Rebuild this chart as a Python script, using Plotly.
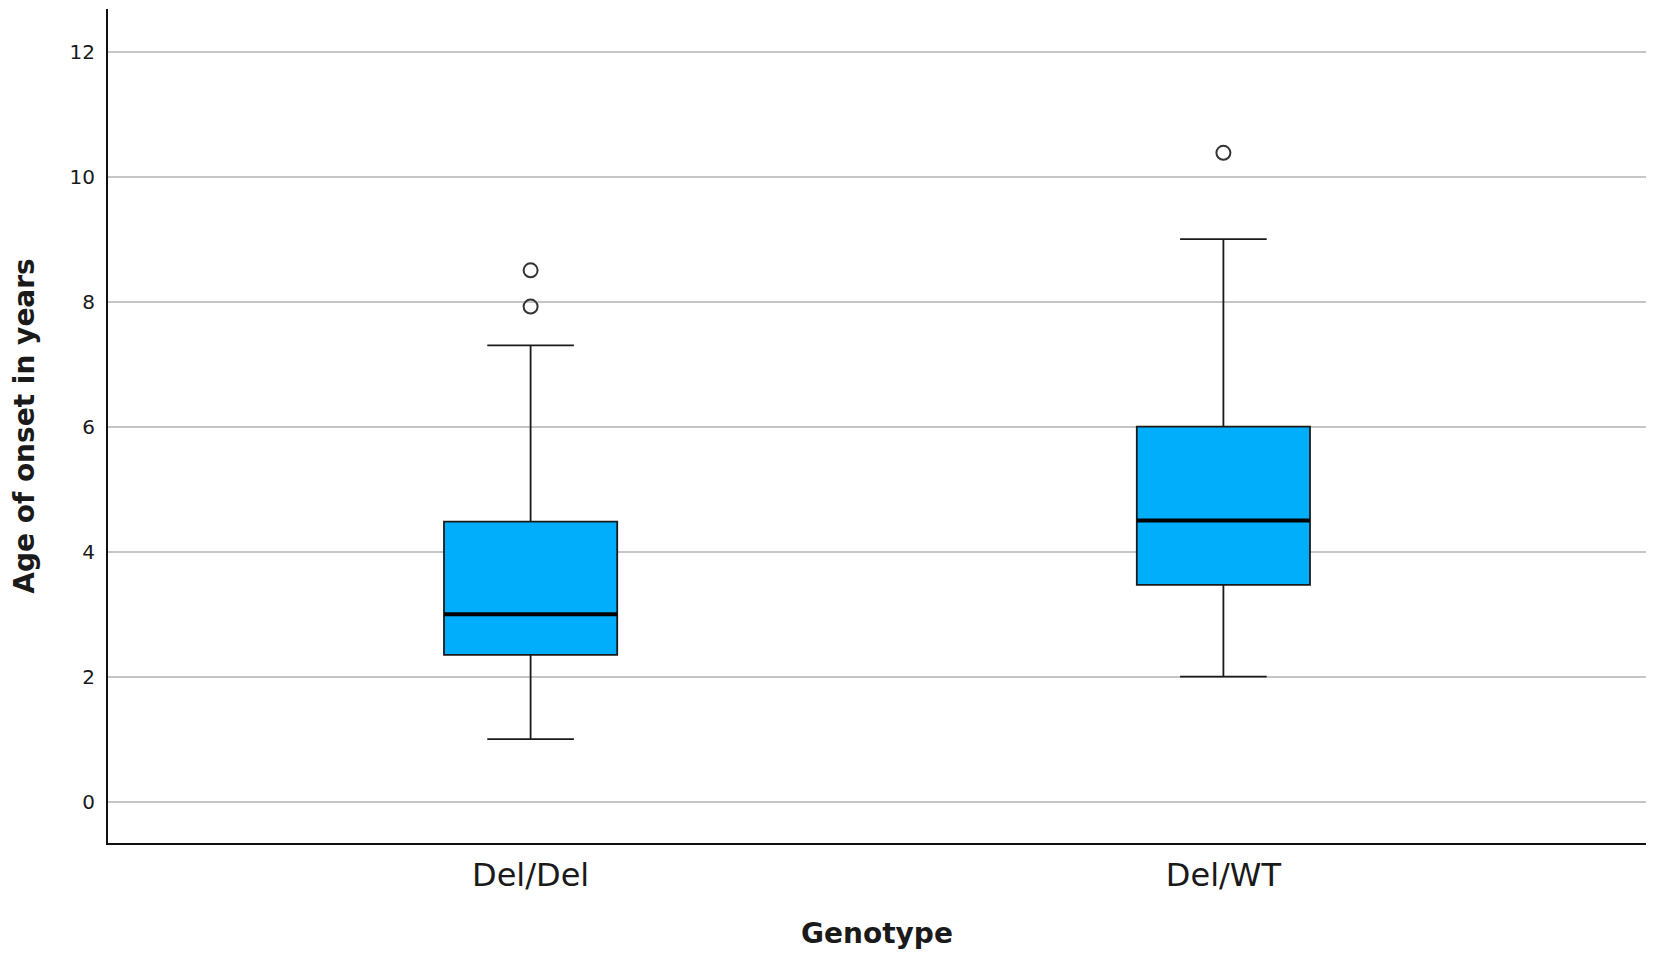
import plotly.graph_objects as go

categories = ["Del/Del", "Del/WT"]
lower_whisker = [1.0, 2.0]
q1 = [2.35, 3.47]
median = [3.0, 4.5]
q3 = [4.48, 6.0]
upper_whisker = [7.3, 9.0]
outlier_x = ["Del/Del", "Del/Del", "Del/WT"]
outlier_y = [7.92, 8.5, 10.38]
y_ticks = [0, 2, 4, 6, 8, 10, 12]

FILL = "#00AEFC"
FONT = "DejaVu Sans"
BOX_W = 0.25

fig = go.Figure()
fig.add_trace(go.Box(
    x=categories, q1=q1, median=median, q3=q3,
    lowerfence=lower_whisker, upperfence=upper_whisker,
    fillcolor=FILL, line=dict(color="#1a1a1a", width=1.8),
    whiskerwidth=0.5, width=BOX_W, boxpoints=False, showlegend=False,
))
# thicker median lines
for i, m in enumerate(median):
    fig.add_shape(type="line", xref="x", yref="y",
                  x0=i - BOX_W / 2, x1=i + BOX_W / 2,
                  y0=m, y1=m, line=dict(color="black", width=4))
fig.add_trace(go.Scatter(
    x=outlier_x, y=outlier_y, mode="markers",
    marker=dict(symbol="circle-open", size=14, color="#333333", line=dict(width=2)),
    showlegend=False,
))

# note: page body has an 8px default margin, compensated in the margins below
fig.update_layout(
    width=1654, height=963,
    margin=dict(l=100, r=16, t=1, b=128),
    plot_bgcolor="white", paper_bgcolor="white",
    font=dict(family=FONT, color="#1a1a1a"),
)
fig.update_xaxes(
    type="category", range=[-0.61, 1.61],
    showline=True, linecolor="#111111", linewidth=2,
    showgrid=False, ticks="", tickfont=dict(size=32, family=FONT),
    ticklabelstandoff=3,
    title=dict(text="<b>Genotype</b>", font=dict(size=28, family=FONT), standoff=30),
)
fig.update_yaxes(
    range=[-0.66, 12.68], tickvals=y_ticks,
    showline=True, linecolor="#111111", linewidth=2,
    showgrid=True, gridcolor="#c6c6c6", gridwidth=1.5, zeroline=False,
    ticks="", tickfont=dict(size=20, family=FONT), ticklabelstandoff=7,
    title=dict(text="<b>Age of onset in years</b>", font=dict(size=28, family=FONT), standoff=33),
)
fig.write_html("out.html")
